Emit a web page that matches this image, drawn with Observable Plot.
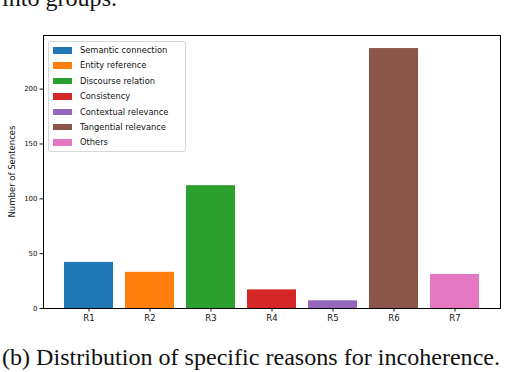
<!DOCTYPE html>
<html>
<head>
<meta charset="utf-8">
<script src="https://cdn.jsdelivr.net/npm/d3@7"></script>
<script src="https://cdn.jsdelivr.net/npm/@observablehq/plot@0.6"></script>
<style>
  html, body { margin: 0; padding: 0; background: #fff; }
  #wrap { position: relative; width: 506px; height: 372px; overflow: hidden; background: #fff; }
  .serif { position: absolute; left: 2px; font-family: "Liberation Serif", "DejaVu Serif", serif; font-size: 22.5px; line-height: 22.5px; color: #111; white-space: nowrap; transform-origin: 0 0; transform: scaleX(1.07); }
  #toptext { top: -12px; }
  #caption { top: 347px; }
  #chart { position: absolute; left: 0; top: 0; }
  #legend { position: absolute; left: 48px; top: 41px; width: 138px; height: 111px; box-sizing: border-box;
            border: 1px solid #d8d8d8; border-radius: 2px; background: rgba(255,255,255,0.8);
            font-family: "DejaVu Sans", sans-serif; font-size: 8.3px; color: #111; padding-top: 2px; }
  .item { position: relative; height: 15.4px; }
  .sw { position: absolute; left: 4px; top: 3px; width: 19px; height: 6.5px; }
  .lab { position: absolute; left: 31px; top: 0px; line-height: 12px; white-space: nowrap; }
</style>
</head>
<body>
<div id="wrap">
  <div id="toptext" class="serif">into groups.</div>
  <div id="chart"></div>
  <div id="legend"></div>
  <div id="caption" class="serif">(b) Distribution of specific reasons for incoherence.</div>
</div>
<script>
const categories = ["R1", "R2", "R3", "R4", "R5", "R6", "R7"];
const counts = [42, 33, 112, 17, 7, 237, 31];
const reasonNames = ["Semantic connection", "Entity reference", "Discourse relation", "Consistency", "Contextual relevance", "Tangential relevance", "Others"];
const colors = ["#1f77b4", "#ff7f0e", "#2ca02c", "#d62728", "#9467bd", "#8c564b", "#e377c2"];
const yTicks = [0, 50, 100, 150, 200];
const yLabel = "Number of Sentences";

const data = categories.map((c, i) => ({cat: c, value: counts[i], name: reasonNames[i], color: colors[i]}));

const chart = Plot.plot({
  width: 506,
  height: 330,
  marginLeft: 43,
  marginRight: 6,
  marginTop: 35,
  marginBottom: 22,
  style: {fontFamily: "DejaVu Sans, sans-serif", background: "transparent", color: "#111"},
  x: {domain: categories, paddingInner: 0.2, paddingOuter: 0.34, axis: null},
  y: {domain: [0, 248.9], axis: null},
  marks: [
    Plot.barY(data, {x: "cat", y: "value", fill: "color"}),
    Plot.axisX({tickSize: 3.5, tickPadding: 2.5, fontSize: 8.5, label: null}),
    Plot.axisY({ticks: yTicks, tickSize: 3.5, tickPadding: 2.5, fontSize: 7, label: null}),
    Plot.frame({stroke: "#000", strokeWidth: 1})
  ]
});
document.getElementById("chart").appendChild(chart);

// y axis title
const svg = d3.select(chart);
svg.append("text")
  .attr("transform", `translate(15, ${(35 + 308) / 2}) rotate(-90)`)
  .attr("text-anchor", "middle")
  .attr("font-size", 8.5)
  .attr("font-family", "DejaVu Sans, sans-serif")
  .attr("fill", "#111")
  .text(yLabel);

const legend = document.getElementById("legend");
data.forEach(d => {
  const it = document.createElement("div");
  it.className = "item";
  it.innerHTML = `<div class="sw" style="background:${d.color}"></div><div class="lab">${d.name}</div>`;
  legend.appendChild(it);
});
</script>
</body>
</html>
